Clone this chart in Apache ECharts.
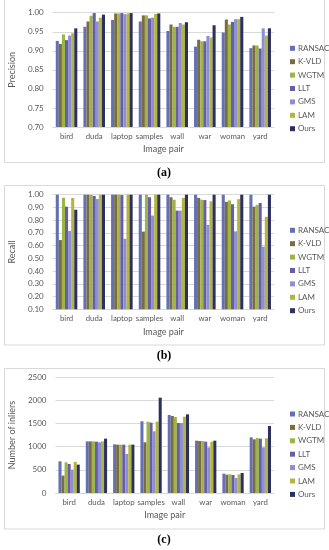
<!DOCTYPE html>
<html>
<head>
<meta charset="utf-8">
<script src="https://cdn.jsdelivr.net/npm/echarts@6/dist/echarts.min.js"></script>
<style>
html,body{margin:0;padding:0;background:#fff;}
#chart{width:329px;height:550px;}
</style>
</head>
<body>
<div id="chart"></div>
<script>
const categories = ['bird','duda','laptop','samples','wall','war','woman','yard'];
const methods = ['RANSAC','K-VLD','WGTM','LLT','GMS','LAM','Ours'];

// (a) Precision
const precisionRANSAC = [0.926,0.963,0.981,0.977,0.952,0.911,0.948,0.907];
const precisionKVLD   = [0.918,0.977,0.998,0.993,0.969,0.929,0.982,0.914];
const precisionWGTM   = [0.943,0.992,0.998,0.993,0.963,0.925,0.969,0.914];
const precisionLLT    = [0.928,0.999,0.999,0.985,0.963,0.925,0.976,0.906];
const precisionGMS    = [0.940,0.977,0.996,0.987,0.973,0.939,0.983,0.959];
const precisionLAM    = [0.946,0.987,0.998,0.997,0.969,0.935,0.983,0.940];
const precisionOurs   = [0.959,0.995,0.999,0.998,0.975,0.967,0.989,0.959];

// (b) Recall
const recallRANSAC = [1.000,1.000,1.000,1.000,1.000,1.000,1.000,1.000];
const recallKVLD   = [0.644,1.000,1.000,0.710,0.980,0.975,0.944,0.906];
const recallWGTM   = [0.976,0.998,1.000,1.000,0.960,0.960,0.955,0.920];
const recallLLT    = [0.906,0.990,0.997,0.980,0.875,0.958,0.925,0.935];
const recallGMS    = [0.715,0.966,0.654,0.836,0.875,0.763,0.712,0.592];
const recallLAM    = [0.974,1.000,1.000,1.000,0.975,0.948,0.965,0.826];
const recallOurs   = [0.882,1.000,1.000,1.000,1.000,1.000,1.000,1.000];

// (c) Number of inliers
const inliersRANSAC = [682,1113,1049,1545,1681,1128,417,1200];
const inliersKVLD   = [374,1113,1042,1092,1659,1121,395,1157];
const inliersWGTM   = [661,1113,1042,1537,1638,1121,402,1185];
const inliersLLT    = [625,1106,1042,1516,1509,1106,388,1171];
const inliersGMS    = [503,1092,840,1329,1509,984,323,984];
const inliersLAM    = [668,1113,1042,1537,1645,1106,402,1178];
const inliersOurs   = [611,1171,1042,2055,1695,1128,431,1444];

const seriesColors = ['#6470b4','#7d6b3f','#9cb547','#6a5ca6','#8c90d2','#b3b53f','#2c3060'];

const panels = [
  {name:'Precision', min:0.7, max:1.0, interval:0.05, dec:2, top:12.7, height:114.3, legendTop:38.3,
   data:[precisionRANSAC,precisionKVLD,precisionWGTM,precisionLLT,precisionGMS,precisionLAM,precisionOurs]},
  {name:'Recall', min:0.1, max:1.0, interval:0.1, dec:2, top:194.7, height:114.6, legendTop:220.3,
   data:[recallRANSAC,recallKVLD,recallWGTM,recallLLT,recallGMS,recallLAM,recallOurs]},
  {name:'Number of inliers', min:0, max:2500, interval:500, dec:0, top:377, height:116, legendTop:404,
   data:[inliersRANSAC,inliersKVLD,inliersWGTM,inliersLLT,inliersGMS,inliersLAM,inliersOurs]}
];

const FONT = 'Lato';
const TXT = '#595959';

const grid = [], xAxis = [], yAxis = [], series = [], legend = [];
panels.forEach((p, i) => {
  grid.push({left:49, right:55, top:p.top, height:p.height});
  xAxis.push({
    type:'category', gridIndex:i, data:categories,
    axisLine:{lineStyle:{color:'#d9d9d9'}}, axisTick:{show:false},
    axisLabel:{color:TXT, fontSize:7.8, fontFamily:FONT, margin:5, interval:0},
    name:'Image pair', nameLocation:'middle', nameGap:18,
    nameTextStyle:{color:TXT, fontSize:9, fontFamily:FONT}
  });
  yAxis.push({
    type:'value', gridIndex:i, min:p.min, max:p.max, interval:p.interval,
    axisLine:{show:false}, axisTick:{show:false},
    splitLine:{lineStyle:{color:'#d9d9d9', width:1}},
    axisLabel:{color:TXT, fontSize:8, fontFamily:FONT, margin:9,
      formatter: v => v.toFixed(p.dec)},
    name:p.name, nameLocation:'middle', nameGap:26,
    nameTextStyle:{color:TXT, fontSize:9, fontFamily:FONT}
  });
  methods.forEach((m, k) => {
    series.push({
      type:'bar', name:m, xAxisIndex:i, yAxisIndex:i, data:p.data[k],
      barGap:'0%', barCategoryGap:'22%',
      itemStyle:{color:seriesColors[k]}, animation:false
    });
  });
  legend.push({
    data:methods, orient:'vertical', left:285, top:p.legendTop,
    itemWidth:5, itemHeight:5, itemGap:3.4, icon:'rect',
    textStyle:{color:TXT, fontSize:8, fontFamily:FONT, lineHeight:10, padding:[0,0,0,-2]},
    selectedMode:false
  });
});

const graphic = [
  {type:'rect', shape:{x:4.5, y:-1, width:320, height:163.5}, style:{fill:'none', stroke:'#d9d9d9', lineWidth:1}, silent:true},
  {type:'rect', shape:{x:4.5, y:185.5, width:320, height:159.5}, style:{fill:'none', stroke:'#d9d9d9', lineWidth:1}, silent:true},
  {type:'rect', shape:{x:4.5, y:368.5, width:320, height:160.5}, style:{fill:'none', stroke:'#d9d9d9', lineWidth:1}, silent:true},
  {type:'text', x:164, y:173, style:{text:'(a)', font:'bold 12px "Liberation Serif"', fill:'#000', textAlign:'center', textVerticalAlign:'middle'}},
  {type:'text', x:164, y:356, style:{text:'(b)', font:'bold 12px "Liberation Serif"', fill:'#000', textAlign:'center', textVerticalAlign:'middle'}},
  {type:'text', x:164, y:540, style:{text:'(c)', font:'bold 12px "Liberation Serif"', fill:'#000', textAlign:'center', textVerticalAlign:'middle'}}
];

const chart = echarts.init(document.getElementById('chart'), null, {renderer:'canvas'});
chart.setOption({
  animation:false,
  backgroundColor:'#fff',
  grid, xAxis, yAxis, series, legend, graphic
});
</script>
</body>
</html>
